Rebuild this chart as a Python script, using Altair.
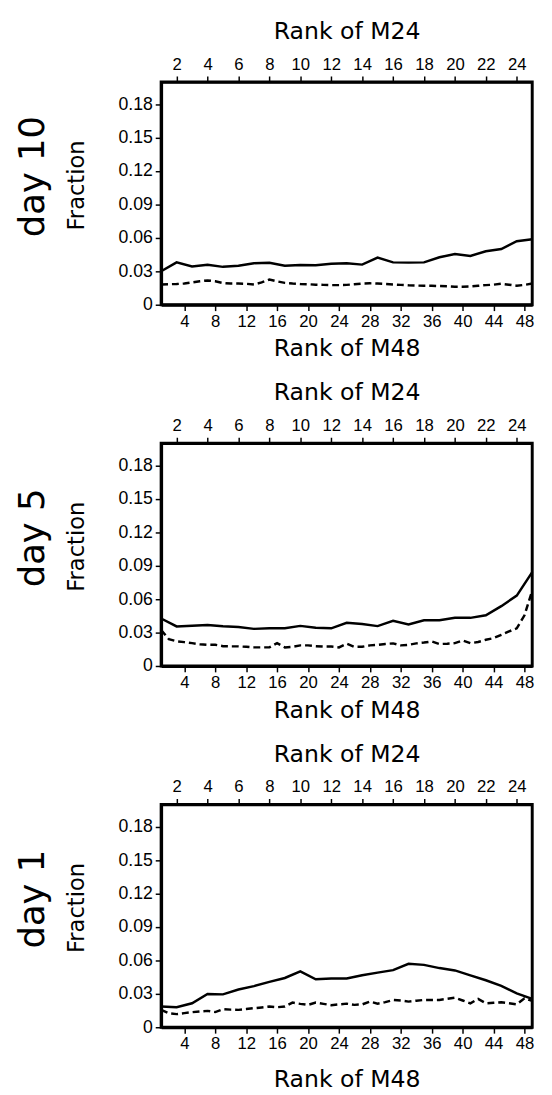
import altair as alt
import pandas as pd

m24_rank = list(range(1, 26))
m48_rank = list(range(1, 50))

day_labels = ["day 10", "day 5", "day 1"]

day10_m24 = [0.0300, 0.0380, 0.0344, 0.0359, 0.0340, 0.0350, 0.0373, 0.0376, 0.0350, 0.0356,
             0.0354, 0.0368, 0.0373, 0.0360, 0.0423, 0.0380, 0.0378, 0.0380, 0.0426, 0.0455,
             0.0438, 0.0480, 0.0500, 0.0570, 0.0588]
day10_m48 = [0.0182, 0.0184, 0.0186, 0.0190, 0.0200, 0.0210, 0.0218, 0.0210, 0.0195, 0.0190,
             0.0190, 0.0188, 0.0182, 0.0200, 0.0226, 0.0210, 0.0196, 0.0190, 0.0186, 0.0184,
             0.0180, 0.0178, 0.0176, 0.0176, 0.0178, 0.0184, 0.0190, 0.0192, 0.0190, 0.0186,
             0.0182, 0.0178, 0.0174, 0.0172, 0.0170, 0.0170, 0.0168, 0.0166, 0.0162, 0.0162,
             0.0164, 0.0170, 0.0176, 0.0180, 0.0188, 0.0180, 0.0170, 0.0178, 0.0190]

day5_m24 = [0.0426, 0.0355, 0.0362, 0.0368, 0.0356, 0.0350, 0.0333, 0.0338, 0.0338, 0.0360,
            0.0344, 0.0338, 0.0388, 0.0376, 0.0358, 0.0405, 0.0373, 0.0411, 0.0411, 0.0432,
            0.0432, 0.0455, 0.0537, 0.0632, 0.0843]
day5_m48 = [0.0323, 0.0240, 0.0222, 0.0214, 0.0205, 0.0195, 0.0190, 0.0190, 0.0178, 0.0176,
            0.0176, 0.0172, 0.0167, 0.0167, 0.0167, 0.0205, 0.0167, 0.0172, 0.0185, 0.0185,
            0.0178, 0.0174, 0.0174, 0.0167, 0.0200, 0.0172, 0.0172, 0.0185, 0.0190, 0.0198,
            0.0203, 0.0185, 0.0190, 0.0203, 0.0210, 0.0220, 0.0197, 0.0200, 0.0205, 0.0229,
            0.0205, 0.0215, 0.0235, 0.0250, 0.0280, 0.0310, 0.0338, 0.0455, 0.0676]

day1_m24 = [0.0186, 0.0180, 0.0215, 0.0298, 0.0295, 0.0339, 0.0369, 0.0407, 0.0442, 0.0502,
            0.0431, 0.0437, 0.0437, 0.0466, 0.0490, 0.0513, 0.0569, 0.0560, 0.0531, 0.0510,
            0.0466, 0.0422, 0.0372, 0.0304, 0.0254]
day1_m48 = [0.0156, 0.0125, 0.0118, 0.0127, 0.0135, 0.0142, 0.0147, 0.0136, 0.0162, 0.0158,
            0.0156, 0.0163, 0.0171, 0.0178, 0.0186, 0.0180, 0.0186, 0.0221, 0.0210, 0.0201,
            0.0221, 0.0210, 0.0198, 0.0205, 0.0212, 0.0201, 0.0205, 0.0230, 0.0212, 0.0225,
            0.0245, 0.0240, 0.0230, 0.0238, 0.0245, 0.0245, 0.0245, 0.0255, 0.0265, 0.0240,
            0.0215, 0.0254, 0.0215, 0.0220, 0.0224, 0.0215, 0.0206, 0.0260, 0.0236]

y_ticks = [0, 0.03, 0.06, 0.09, 0.12, 0.15, 0.18]
top_ticks = list(range(2, 25, 2))
bottom_ticks = list(range(4, 49, 4))

TITLE_FONT = "DejaVu Sans"
LABEL_FONT = "Liberation Sans"

W, H = 378, 227


def panel(label, s24, s48, bottom_pad):
    df24 = pd.DataFrame({"rank": m24_rank, "frac": s24})
    df48 = pd.DataFrame({"rank": m48_rank, "frac": s48})
    yenc = alt.Y(
        "frac:Q",
        scale=alt.Scale(domain=[0, 0.2], nice=False, zero=True),
        axis=alt.Axis(
            title="Fraction", values=y_ticks,
            labelExpr="datum.value == 0 ? '0' : format(datum.value, '.2f')",
            labelFontSize=18, titleFontSize=23, titlePadding=30, titleY=105,
        ),
    )
    solid = alt.Chart(df24).mark_line(color="black", strokeWidth=2.5).encode(
        x=alt.X("rank:Q", scale=alt.Scale(domain=[1, 25], nice=False, zero=False),
                axis=alt.Axis(orient="top", title="Rank of M24", values=top_ticks,
                              titlePadding=12)),
        y=yenc,
    )
    dashed = alt.Chart(df48).mark_line(color="black", strokeWidth=2.5, strokeDash=[7, 4]).encode(
        x=alt.X("rank:Q", scale=alt.Scale(domain=[1, 49], nice=False, zero=False),
                axis=alt.Axis(orient="bottom", title="Rank of M48", values=bottom_ticks,
                              titlePadding=bottom_pad)),
        y=yenc,
    )
    return alt.layer(solid, dashed).resolve_scale(x="independent").properties(
        width=W, height=H,
        title=alt.TitleParams(label, orient="left", fontSize=36, font=TITLE_FONT,
                              fontWeight="normal", offset=14, dx=17, color="black"),
    )


chart = alt.vconcat(
    panel(day_labels[0], day10_m24, day10_m48, 8),
    panel(day_labels[1], day5_m24, day5_m48, 8),
    panel(day_labels[2], day1_m24, day1_m48, 16),
    spacing=17,
).properties(
    padding={"left": 6, "top": 0, "right": 5, "bottom": 5},
).configure_view(
    stroke="black", strokeWidth=3,
).configure_axis(
    grid=False, domainColor="black", domainWidth=3, tickColor="black", tickWidth=1.5,
    tickSize=6, labelColor="black", titleColor="black", labelFont=LABEL_FONT,
    labelFontSize=17, titleFont=TITLE_FONT, titleFontSize=24, titleFontWeight="normal",
    labelPadding=3,
).configure_title(color="black")

chart.save("out.html", embed_options={"renderer": "svg", "actions": False})
